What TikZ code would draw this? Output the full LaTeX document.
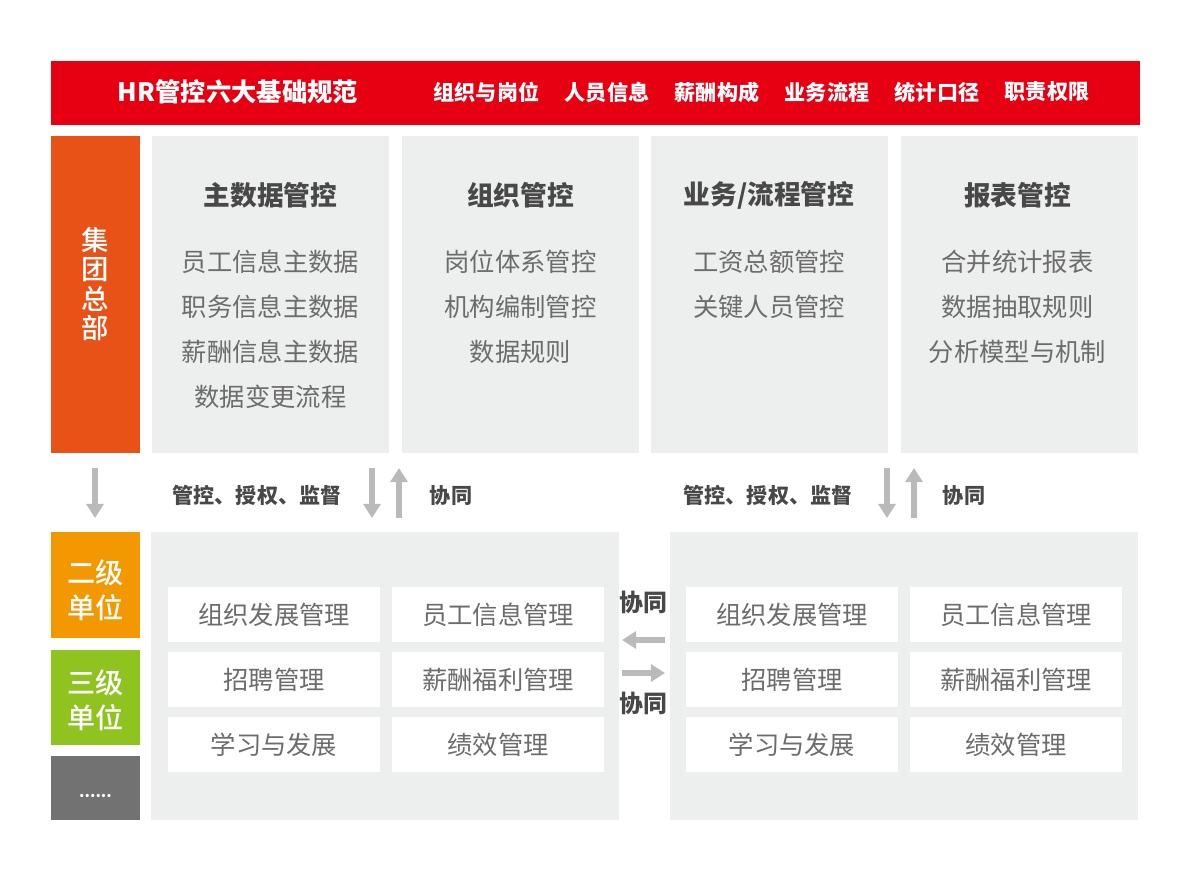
\documentclass[tikz,border=0pt]{standalone}
\usepackage{fontspec}
\setmainfont{Noto Sans CJK SC}
\newfontfamily\medfont{Noto Sans CJK SC Medium}
\usetikzlibrary{positioning,arrows.meta}
\definecolor{hrred}{RGB}{230,0,18}
\definecolor{hqorange}{RGB}{232,82,22}
\definecolor{lvtwo}{RGB}{243,152,0}
\definecolor{lvthree}{RGB}{143,195,31}
\definecolor{lvmore}{RGB}{114,114,114}
\definecolor{panelgray}{RGB}{237,238,238}
\definecolor{titlegray}{RGB}{72,72,72}
\definecolor{itemgray}{RGB}{108,108,108}
\definecolor{arrowgray}{RGB}{186,186,186}

\begin{document}
\begin{tikzpicture}[x=0.025cm,y=-0.025cm,
    panel/.style={fill=panelgray,inner sep=0pt,minimum width=5.925cm,minimum height=7.925cm},
    levelbar/.style={inner sep=0pt,minimum width=2.225cm},
    levelname/.style={text=white,align=center,inner sep=0pt,font=\fontsize{20}{24.8}\selectfont\medfont},
    cell/.style={fill=white,inner sep=0pt,minimum width=5.3cm,minimum height=1.375cm,text=itemgray,font=\fontsize{18}{20}\selectfont},
    paneltitle/.style={text=titlegray,font=\fontsize{19}{22}\selectfont\bfseries},
    panelitem/.style={text=itemgray,font=\fontsize{18}{20}\selectfont},
    flowlabel/.style={text=titlegray,font=\fontsize{15}{17}\selectfont\bfseries},
    flowarrow/.style={draw=arrowgray,line width=4.5pt,-{Triangle[width=12pt,length=10pt]}}]
  \useasboundingbox (0,0) rectangle (1200,876);

  % banner
  \node[fill=hrred,inner sep=0pt,minimum width=27.225cm,minimum height=1.6cm] (banner) at (595.5,93) {};
  \node[text=white,font=\fontsize{18}{20}\selectfont\bfseries] (bannertitle) at (238,92) {HR管控六大基础规范};
  \foreach \x/\t [count=\i] in {486.5/组织与岗位,607/人员信息,717/薪酬构成,827/业务流程,937/统计口径,1047/职责权限}
    \node[text=white,font=\fontsize{15}{17}\selectfont\bfseries] (norm\i) at (\x,92) {\t};

  % group headquarters
  \node[levelbar,fill=hqorange,minimum height=7.925cm] (hq) at (95.5,294.5) {};
  \node[levelname,font=\fontsize{19.5}{21}\selectfont\medfont] (hqname) at (95.5,284) {集\\团\\总\\部};

  \node[panel] (pmaster) at (270.5,294.5) {};
  \node[panel] (porg) at (520.5,294.5) {};
  \node[panel] (pflow) at (769.5,294.5) {};
  \node[panel] (preport) at (1019.5,294.5) {};

  \node[paneltitle] (tmaster) at (270.5,195) {主数据管控};
  \node[paneltitle] (torg) at (520.5,195) {组织管控};
  \node[paneltitle] (tflow) at (769,195) {业务/流程管控};
  \node[paneltitle] (treport) at (1017.5,195) {报表管控};

  \foreach \t [count=\i] in {员工信息主数据,职务信息主数据,薪酬信息主数据,数据变更流程}
    \node[panelitem] (mitem\i) at (270.5,217+45*\i) {\t};
  \foreach \t [count=\i] in {岗位体系管控,机构编制管控,数据规则}
    \node[panelitem] (oitem\i) at (520.5,217+45*\i) {\t};
  \foreach \t [count=\i] in {工资总额管控,关键人员管控}
    \node[panelitem] (fitem\i) at (769,217+45*\i) {\t};
  \foreach \t [count=\i] in {合并统计报表,数据抽取规则,分析模型与机制}
    \node[panelitem] (ritem\i) at (1017.5,217+45*\i) {\t};

  % arrows between levels
  \coordinate (hqtop) at (95,468);   \coordinate (hqbot) at (95,518);
  \coordinate (ldtop) at (372,468);  \coordinate (ldbot) at (372,518);
  \coordinate (lutop) at (399,468);  \coordinate (lubot) at (399,518);
  \coordinate (rdtop) at (887,468);  \coordinate (rdbot) at (887,518);
  \coordinate (rutop) at (914,468);  \coordinate (rubot) at (914,518);
  \draw[flowarrow] (hqtop) -- (hqbot);
  \draw[flowarrow] (ldtop) -- (ldbot);
  \draw[flowarrow] (lubot) -- (lutop);
  \draw[flowarrow] (rdtop) -- (rdbot);
  \draw[flowarrow] (rubot) -- (rutop);
  \node[flowlabel] (lctrl) at (257,495) {管控、授权、监督};
  \node[flowlabel] (lcoop) at (451,495) {协同};
  \node[flowlabel] (rctrl) at (768,495) {管控、授权、监督};
  \node[flowlabel] (rcoop) at (964,495) {协同};

  % units
  \node[levelbar,fill=lvtwo,minimum height=2.65cm] (lv2) at (95.5,585) {};
  \node[levelname] (lv2name) at (95.5,590.5) {二级\\单位};
  \node[levelbar,fill=lvthree,minimum height=2.375cm] (lv3) at (95.5,697.5) {};
  \node[levelname] (lv3name) at (95.5,700) {三级\\单位};
  \node[levelbar,fill=lvmore,minimum height=1.6cm] (lvmore) at (95.5,788) {};
  \node[levelname,font=\fontsize{11}{13}\selectfont\bfseries] (lvmorename) at (95.5,796) {......};

  \node[fill=panelgray,inner sep=0pt,minimum width=11.7cm,minimum height=7.2cm] (bleft) at (385,676) {};
  \node[fill=panelgray,inner sep=0pt,minimum width=11.7cm,minimum height=7.2cm] (bright) at (904,676) {};

  \foreach \cx in {274,792} {
    \node[cell] at (\cx,614.5) {组织发展管理};
    \node[cell] at (\cx,679.5) {招聘管理};
    \node[cell] at (\cx,744.5) {学习与发展};
  }
  \foreach \cx in {498,1016} {
    \node[cell] at (\cx,614.5) {员工信息管理};
    \node[cell] at (\cx,679.5) {薪酬福利管理};
    \node[cell] at (\cx,744.5) {绩效管理};
  }

  % cooperation between units
  \coordinate (mlleft) at (622,640);  \coordinate (mlright) at (665,640);
  \coordinate (mrleft) at (622,673);  \coordinate (mrright) at (665,673);
  \draw[flowarrow] (mlright) -- (mlleft);
  \draw[flowarrow] (mrleft) -- (mrright);
  \node[flowlabel,font=\fontsize{17}{19}\selectfont\bfseries] (mcoop1) at (643,602) {协同};
  \node[flowlabel,font=\fontsize{17}{19}\selectfont\bfseries] (mcoop2) at (643,703) {协同};
\end{tikzpicture}
\end{document}
